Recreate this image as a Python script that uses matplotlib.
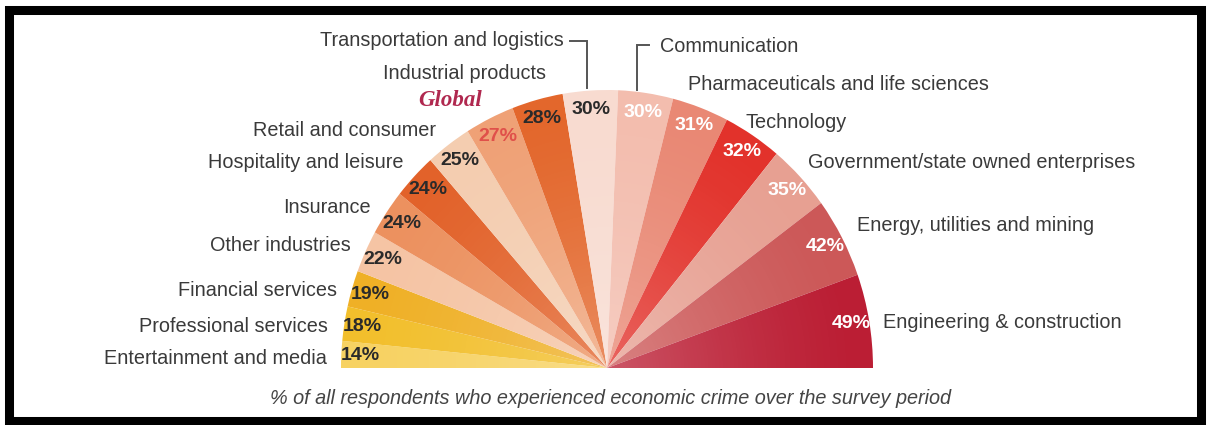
import numpy as np
import matplotlib
matplotlib.use("Agg")
import matplotlib.pyplot as plt
from matplotlib.patches import Rectangle, Wedge

# ---------------- data ----------------
categories = ["Entertainment and media", "Professional services", "Financial services",
              "Other industries", "Insurance", "Hospitality and leisure",
              "Retail and consumer", "Global", "Industrial products",
              "Transportation and logistics", "Communication",
              "Pharmaceuticals and life sciences", "Technology",
              "Government/state owned enterprises", "Energy, utilities and mining",
              "Engineering & construction"]
values = [14, 18, 19, 22, 24, 24, 25, 27, 28, 30, 30, 31, 32, 35, 42, 49]
pct_labels = [f"{v}%" for v in values]
footnote = "% of all respondents who experienced economic crime over the survey period"

# ---------------- styles ----------------
colors = ["#f7d262", "#f2bf2c", "#efb026", "#f5c4a4", "#ec915f", "#e2622a",
          "#f4cdb0", "#efa176", "#e3672c", "#f8dbd0", "#f3bdae", "#e98874",
          "#e2322b", "#e7a092", "#cc5858", "#bb1e34"]
pct_colors = ["#2a2a2a"] * 7 + ["#e0504a", "#2a2a2a", "#2a2a2a"] + ["white"] * 6

plt.rcParams['font.family'] = ['Liberation Sans', 'DejaVu Sans']

W, H = 1212, 425
fig = plt.figure(figsize=(W / 100, H / 100), dpi=100)
fig.patch.set_facecolor("white")

# main pixel-space axes
ax = fig.add_axes([0, 0, 1, 1])
ax.set_xlim(0, W)
ax.set_ylim(H, 0)
ax.axis("off")

# pie axes (upper half of an ellipse)
cx, cy, rx, ry = 607, 368, 266, 278
pax = fig.add_axes([(cx - rx) / W, (H - cy - ry) / H, 2 * rx / W, 2 * ry / H])
total = sum(values)
wedges, _ = pax.pie(values + [total], colors=colors + ["none"], startangle=180,
                    counterclock=False, radius=1.0,
                    wedgeprops=dict(linewidth=0, edgecolor="none"))
pax.set_aspect("auto")
pax.set_xlim(-1, 1)
pax.set_ylim(-1, 1)
pax.axis("off")

# soft white radial glow toward the centre
n = 400
gx, gy = np.meshgrid(np.linspace(-1, 1, n), np.linspace(1, -1, n))
rr = np.sqrt(gx ** 2 + gy ** 2)
glow = np.zeros((n, n, 4))
glow[..., :3] = 1.0
glow[..., 3] = np.clip(0.25 * (1 - rr) ** 1.5, 0, 1)
im = pax.imshow(glow, extent=(-1, 1, -1, 1), aspect="auto", zorder=1.5,
                interpolation="bilinear")
clip = Wedge((0, 0), 1.0, 0, 180, transform=pax.transData)
im.set_clip_path(clip)
pax.set_xlim(-1, 1)
pax.set_ylim(-1, 1)

# percentage labels inside wedges
for w, lab, c in zip(wedges[:-1], pct_labels, pct_colors):
    mid = np.deg2rad((w.theta1 + w.theta2) / 2)
    r = 0.93
    pax.text(r * np.cos(mid), r * np.sin(mid), lab, ha="center", va="center",
             fontsize=14, fontweight="bold", color=c, zorder=3)

# category labels (layout positions in pixels)
label_pos = [(327, 358, "right"), (328, 327, "right"), (337, 290, "right"),
             (351, 245, "right"), (371, 207, "right"), (404, 162, "right"),
             (436, 130, "right"), (482, 100, "right"), (546, 73, "right"),
             (564, 40, "right"), (660, 46, "left"), (688, 84, "left"),
             (745, 122, "left"), (808, 163, "left"), (857, 225, "left"),
             (883, 322, "left")]
for name, (x, y, ha) in zip(categories, label_pos):
    if name == "Global":
        ax.text(x, y, name, ha=ha, va="center", fontsize=16.5, color="#b0284f",
                fontweight="bold", fontstyle="italic", family="Liberation Serif")
    else:
        ax.text(x, y, name, ha=ha, va="center", fontsize=14.3, color="#3a3a3a")

# leader lines
ax.plot([570, 587, 587], [41, 41, 88], color="#555555", lw=1.4, solid_joinstyle="miter")
ax.plot([649, 637, 637], [45, 45, 90], color="#555555", lw=1.4, solid_joinstyle="miter")

# footnote
ax.text(610, 398, footnote, ha="center", va="center", fontsize=14.3,
        fontstyle="italic", color="#444444")

# black frame
ax.add_patch(Rectangle((9, 10), 1192, 411, fill=False, edgecolor="black", lw=6.5))

fig.savefig("out.png", dpi=100, facecolor="white")
